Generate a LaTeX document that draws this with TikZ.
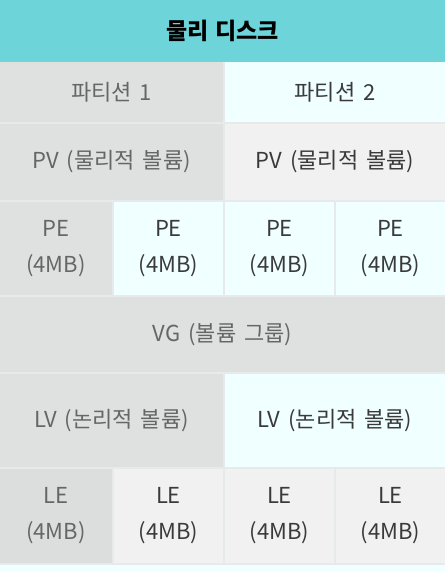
\documentclass[tikz,border=0pt]{standalone}
\usepackage{fontspec}
\setmainfont{Noto Sans CJK KR}
\definecolor{hdr}{HTML}{6DD5DA}
\definecolor{cgray}{HTML}{DFE0E0}
\definecolor{cgrayb}{HTML}{DCDDDD}
\definecolor{cazure}{HTML}{F0FFFF}
\definecolor{clight}{HTML}{F1F1F1}
\definecolor{cline}{HTML}{E6EAEA}
\definecolor{tdim}{HTML}{666666}
\definecolor{tdark}{HTML}{3A3A3A}
\newcommand{\bodyfont}{\fontsize{22}{36}\selectfont\spaceskip=0.36em plus 0.05em\relax}
\newcommand{\hdrfont}{\fontsize{23}{26}\selectfont\bfseries\spaceskip=0.3em plus 0.05em\relax}
\tikzset{
  cell/.style={rectangle, inner sep=0pt, outer sep=0pt, align=center, font=\bodyfont},
  gcell/.style={cell, fill=cgray, text=tdim},
  acell/.style={cell, fill=cazure, text=tdark},
  lcell/.style={cell, fill=clight, text=tdark},
  hcell/.style={cell, fill=hdr, text=black, font=\hdrfont},
}
\newcommand{\cellbox}[6]{% style, name, x1, y1, x2, y2 ; text follows
  \node[#1, minimum width={(#5-#3)*1pt}, minimum height={(#6-#4)*1pt}] (#2) at ({(#3+#5)/2},{(#4+#6)/2})}
\begin{document}
\begin{tikzpicture}[x=1pt,y=-1pt]
\useasboundingbox (0,0) rectangle (445,571);
\fill[cline] (0,0) rectangle (445,571);
\fill[cazure] (0,565) rectangle (445,571);
% header
\cellbox{hcell}{hd}{0}{0}{445}{62} {물리 디스크};
% partitions
\cellbox{gcell}{p1}{0}{62}{223}{122} {파티션 1};
\cellbox{acell}{p2}{225}{62}{445}{122} {파티션 2};
% PV
\cellbox{gcell}{pv1}{0}{124}{223}{200} {PV (물리적 볼륨)};
\cellbox{lcell}{pv2}{225}{124}{445}{200} {PV (물리적 볼륨)};
% PE
\cellbox{gcell}{pe1}{0}{202}{112}{295} {PE\\(4MB)};
\cellbox{acell}{pe2}{114}{202}{223}{295} {PE\\(4MB)};
\cellbox{acell}{pe3}{225}{202}{334}{295} {PE\\(4MB)};
\cellbox{acell}{pe4}{336}{202}{445}{295} {PE\\(4MB)};
% VG
\cellbox{gcell}{vg}{0}{297}{445}{372} {VG (볼륨 그룹)};
% LV
\cellbox{gcell}{lv1}{0}{374}{223}{467} {LV (논리적 볼륨)};
\cellbox{acell}{lv2}{225}{374}{445}{467} {LV (논리적 볼륨)};
% LE
\cellbox{gcell, fill=cgrayb}{le1}{0}{469}{112}{563} {LE\\(4MB)};
\cellbox{lcell}{le2}{114}{469}{223}{563} {LE\\(4MB)};
\cellbox{lcell}{le3}{225}{469}{334}{563} {LE\\(4MB)};
\cellbox{lcell}{le4}{336}{469}{445}{563} {LE\\(4MB)};
\end{tikzpicture}
\end{document}
